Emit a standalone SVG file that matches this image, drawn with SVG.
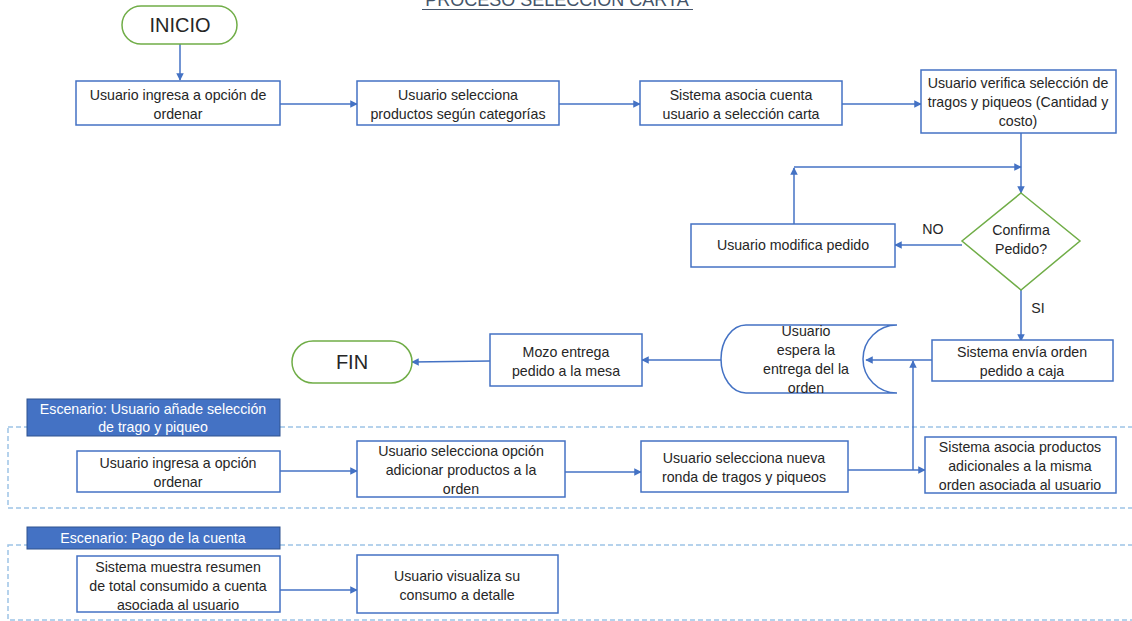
<svg xmlns="http://www.w3.org/2000/svg" width="1132" height="621" viewBox="0 0 1132 621">
<defs>
<style>
.box{fill:#fff;stroke:#4472C4;stroke-width:1.5}
.term{fill:#fff;stroke:#70AD47;stroke-width:1.5}
.t{font-family:"Liberation Sans",Arial,sans-serif;font-size:14.2px;fill:#262626;text-anchor:middle}
.big{font-family:"Liberation Sans",Arial,sans-serif;font-size:20px;fill:#262626;text-anchor:middle}
.lbl{fill:#4472C4;stroke:#2F528F;stroke-width:1}
.lt{font-family:"Liberation Sans",Arial,sans-serif;font-size:14.2px;fill:#fff;text-anchor:middle}
.dash{fill:none;stroke:#9DC3E6;stroke-width:1.5;stroke-dasharray:5 3}
.c{fill:none;stroke:#4472C4;stroke-width:1.5;marker-end:url(#a)}
</style>
<marker id="a" viewBox="0 0 10 10" refX="9" refY="5" markerWidth="5" markerHeight="5" orient="auto" markerUnits="strokeWidth">
<path d="M0,0 L10,5 L0,10 z" fill="#4472C4"/>
</marker>
</defs>
<rect width="1132" height="621" fill="#fff"/>
<g id="title">
<text x="557" y="6" font-family="'Liberation Sans',Arial,sans-serif" font-size="18" fill="#44546A" text-anchor="middle">PROCESO SELECCIÓN CARTA</text>
<line x1="422" y1="9.5" x2="693" y2="9.5" stroke="#44546A" stroke-width="1.2"/>
</g>
<g id="scenario1-frame">
<rect class="dash" x="8" y="427" width="1130" height="81"/>
</g>
<g id="scenario2-frame">
<rect class="dash" x="8" y="545" width="1130" height="75"/>
</g>
<g id="connectors">
<path class="c" d="M180,44 L180,80"/>
<path class="c" d="M280,104 L357,104"/>
<path class="c" d="M559,104 L640,104"/>
<path class="c" d="M842,104 L921,104"/>
<path class="c" d="M1021,133 L1021,193"/>
<path class="c" d="M794,224 L794,168"/>
<path class="c" d="M794,167 L1021,167"/>
<path class="c" d="M962,245 L895,245"/>
<path class="c" d="M1021,290 L1021,341"/>
<path class="c" d="M932,360 L866,360"/>
<path class="c" d="M721,360 L642,360"/>
<path class="c" d="M490,361 L412,362"/>
<path class="c" d="M280,471 L357,471"/>
<path class="c" d="M565,472 L641,472"/>
<path class="c" d="M848,470 L925,470"/>
<path class="c" d="M913,470 L913,361"/>
<path class="c" d="M280,590 L357,590"/>
<text x="933" y="234" class="t" font-size="13">NO</text>
<text x="1038" y="313" class="t" font-size="13">SI</text>
</g>
<g id="inicio">
<rect class="term" x="122" y="6" width="115" height="38" rx="19"/>
<text x="180" y="32" class="big">INICIO</text>
</g>
<g id="n1">
<rect class="box" x="76" y="81" width="204" height="44"/>
<text x="178" y="100" class="t">Usuario ingresa a opción de</text>
<text x="178" y="119" class="t">ordenar</text>
</g>
<g id="n2">
<rect class="box" x="357" y="81" width="202" height="44"/>
<text x="458" y="100" class="t">Usuario selecciona</text>
<text x="458" y="119" class="t">productos según categorías</text>
</g>
<g id="n3">
<rect class="box" x="640" y="81" width="202" height="44"/>
<text x="741" y="100" class="t">Sistema asocia cuenta</text>
<text x="741" y="119" class="t">usuario a selección carta</text>
</g>
<g id="n4">
<rect class="box" x="921" y="70" width="195" height="63"/>
<text x="1018" y="88" class="t">Usuario verifica selección de</text>
<text x="1018" y="107" class="t">tragos y piqueos (Cantidad y</text>
<text x="1018" y="126" class="t">costo)</text>
</g>
<g id="decision">
<path class="term" d="M1021,193 L1080,241 L1021,290 L962,241 Z"/>
<text x="1021" y="235" class="t" font-size="13">Confirma</text>
<text x="1021" y="254" class="t" font-size="13">Pedido?</text>
</g>
<g id="n5">
<rect class="box" x="691" y="224" width="204" height="43"/>
<text x="793" y="250" class="t">Usuario modifica pedido</text>
</g>
<g id="n6">
<rect class="box" x="932" y="340" width="181" height="41"/>
<text x="1022" y="357" class="t">Sistema envía orden</text>
<text x="1022" y="376" class="t">pedido a caja</text>
</g>
<g id="n7">
<path class="box" d="M897,325 L746,325 A25,34 0 0 0 746,393 L897,393 A34,34 0 0 1 897,325 Z"/>
<text x="806" y="336" class="t">Usuario</text>
<text x="806" y="355" class="t">espera la</text>
<text x="806" y="374" class="t">entrega del la</text>
<text x="806" y="393" class="t">orden</text>
</g>
<g id="n8">
<rect class="box" x="490" y="334" width="152" height="52"/>
<text x="566" y="357" class="t">Mozo entrega</text>
<text x="566" y="376" class="t">pedido a la mesa</text>
</g>
<g id="fin">
<rect class="term" x="292" y="341" width="120" height="42" rx="21"/>
<text x="352" y="369" class="big">FIN</text>
</g>
<g id="label1">
<rect class="lbl" x="27" y="399" width="253" height="37"/>
<text x="153" y="414" class="lt">Escenario: Usuario añade selección</text>
<text x="153" y="432" class="lt">de trago y piqueo</text>
</g>
<g id="s1a">
<rect class="box" x="77" y="451" width="203" height="41"/>
<text x="178" y="468" class="t">Usuario ingresa a opción</text>
<text x="178" y="487" class="t">ordenar</text>
</g>
<g id="s1b">
<rect class="box" x="357" y="441" width="208" height="56"/>
<text x="461" y="456" class="t">Usuario selecciona opción</text>
<text x="461" y="475" class="t">adicionar productos a la</text>
<text x="461" y="494" class="t">orden</text>
</g>
<g id="s1c">
<rect class="box" x="641" y="441" width="207" height="51"/>
<text x="744" y="463" class="t">Usuario selecciona nueva</text>
<text x="744" y="482" class="t">ronda de tragos y piqueos</text>
</g>
<g id="s1d">
<rect class="box" x="925" y="437" width="191" height="56"/>
<text x="1020" y="452" class="t">Sistema asocia productos</text>
<text x="1020" y="471" class="t">adicionales a la misma</text>
<text x="1020" y="490" class="t">orden asociada al usuario</text>
</g>
<g id="label2">
<rect class="lbl" x="27" y="527" width="253" height="22"/>
<text x="153" y="543" class="lt">Escenario: Pago de la cuenta</text>
</g>
<g id="s2a">
<rect class="box" x="77" y="556" width="203" height="56"/>
<text x="178" y="572" class="t">Sistema muestra resumen</text>
<text x="178" y="591" class="t">de total consumido a cuenta</text>
<text x="178" y="610" class="t">asociada al usuario</text>
</g>
<g id="s2b">
<rect class="box" x="357" y="555" width="201" height="58"/>
<text x="457" y="581" class="t">Usuario visualiza su</text>
<text x="457" y="600" class="t">consumo a detalle</text>
</g>
</svg>
